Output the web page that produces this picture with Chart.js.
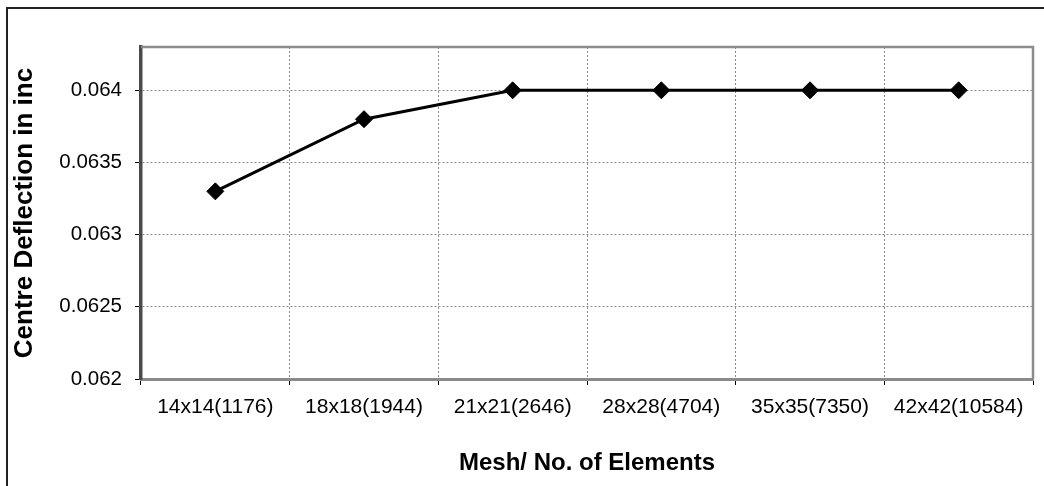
<!DOCTYPE html>
<html>
<head>
<meta charset="utf-8">
<script src="https://cdn.jsdelivr.net/npm/chart.js@4/dist/chart.umd.min.js"></script>
<style>
  html, body { margin: 0; padding: 0; background: #fff; }
  #wrap { width: 1044px; height: 486px; position: relative; }
</style>
</head>
<body>
<div id="wrap"><canvas id="c" width="1044" height="486"></canvas></div>
<script>
const categories = ["14x14(1176)", "18x18(1944)", "21x21(2646)", "28x28(4704)", "35x35(7350)", "42x42(10584)"];
const deflection = [0.0633, 0.0638, 0.064, 0.064, 0.064, 0.064];
const yMin = 0.062;
const yMax = 0.0643;
const yStep = 0.0005;
const xTitle = "Mesh/ No. of Elements";
const yTitle = "Centre Deflection in inc";

const frame = {
  id: 'frame',
  afterDraw(chart) {
    const ctx = chart.ctx;
    const a = chart.chartArea;
    ctx.save();
    // plot area top and right border
    ctx.strokeStyle = '#8c8c8c';
    ctx.lineWidth = 2.5;
    ctx.beginPath();
    ctx.moveTo(a.left, a.top);
    ctx.lineTo(a.right, a.top);
    ctx.lineTo(a.right, a.bottom);
    ctx.stroke();
    // outer chart border
    ctx.strokeStyle = '#222';
    ctx.lineWidth = 2;
    ctx.beginPath();
    ctx.moveTo(7, 490);
    ctx.lineTo(7, 8);
    ctx.lineTo(1050, 8);
    ctx.stroke();
    ctx.restore();
  }
};

new Chart(document.getElementById('c'), {
  type: 'line',
  data: {
    labels: categories,
    datasets: [{
      data: deflection,
      borderColor: '#000',
      borderWidth: 3,
      backgroundColor: '#000',
      pointStyle: 'rectRot',
      pointRadius: 8.5,
      pointHoverRadius: 8.5,
      pointBackgroundColor: '#000',
      pointBorderColor: '#000',
      pointBorderWidth: 1,
      tension: 0,
      fill: false
    }]
  },
  options: {
    responsive: false,
    animation: false,
    devicePixelRatio: 1,
    layout: { padding: { left: 0, top: 47, right: 11, bottom: 0 } },
    plugins: { legend: { display: false }, tooltip: { enabled: false } },
    scales: {
      x: {
        offset: true,
        grid: {
          offset: true,
          color: '#8a8a8a',
          lineWidth: 1,
          drawTicks: true,
          tickLength: 6,
          tickColor: '#000',
          tickWidth: 1
        },
        border: { display: true, color: '#8a8a8a', width: 3, dash: [2, 2] },
        ticks: {
          color: '#000',
          padding: 10,
          maxRotation: 0,
          autoSkip: false,
          font: { family: 'Liberation Sans, Arial, sans-serif', size: 21, lineHeight: 1.2 }
        },
        title: {
          display: true,
          text: xTitle,
          color: '#000',
          padding: { top: 0, bottom: 8.6 },
          font: { family: 'Liberation Sans, Arial, sans-serif', size: 24, weight: 'bold', lineHeight: 1.2 }
        },
        afterFit(scale) { scale.height = 107; }
      },
      y: {
        min: yMin,
        max: yMax,
        grid: {
          color: '#8a8a8a',
          lineWidth: 1,
          drawTicks: true,
          tickLength: 6,
          tickColor: '#000',
          tickWidth: 1
        },
        border: { display: true, color: '#4a4a4a', width: 3.5, dash: [2, 2] },
        ticks: {
          stepSize: yStep,
          includeBounds: false,
          color: '#000',
          padding: 13,
          font: { family: 'Liberation Sans, Arial, sans-serif', size: 20.5 },
          callback: (v) => String(Number(v.toFixed(4)))
        },
        title: {
          display: true,
          text: yTitle,
          color: '#000',
          padding: { top: 9, bottom: 0 },
          font: { family: 'Liberation Sans, Arial, sans-serif', size: 26, weight: 'bold', lineHeight: 1.2 }
        },
        afterFit(scale) { scale.width = 141; }
      }
    }
  },
  plugins: [frame]
});
</script>
</body>
</html>
